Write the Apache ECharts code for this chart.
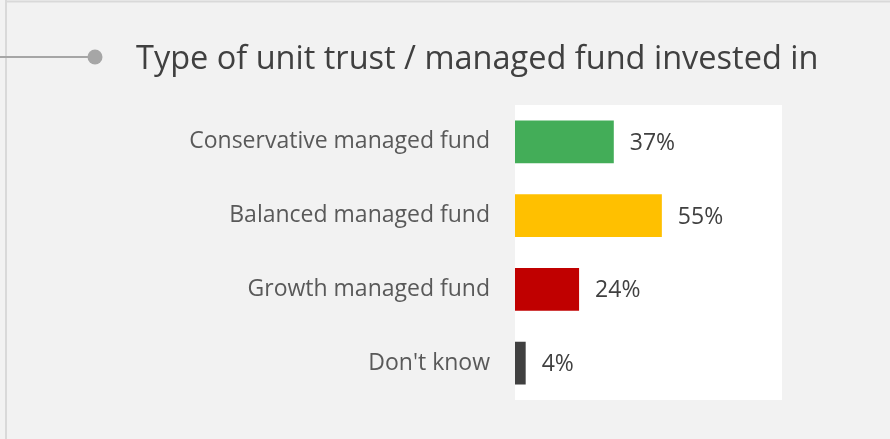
<!DOCTYPE html>
<html>
<head>
<meta charset="utf-8">
<script src="https://cdn.jsdelivr.net/npm/echarts@6/dist/echarts.min.js"></script>
<style>
html,body{margin:0;padding:0;background:#f2f2f2;}
#chart{width:890px;height:439px;}
</style>
</head>
<body>
<div id="chart"></div>
<script>
var titleText = "Type of unit trust / managed fund invested in";
var categories = ["Conservative managed fund", "Balanced managed fund", "Growth managed fund", "Don't know"];
var values = [37, 55, 24, 4];
var barColors = ["#43ad58", "#ffc000", "#c00000", "#404040"];

var chart = echarts.init(document.getElementById('chart'), null, {renderer: 'canvas'});
var font = "'Open Sans', 'Noto Sans', sans-serif";
chart.setOption({
  backgroundColor: '#f2f2f2',
  animation: false,
  title: {
    text: titleText,
    left: 131,
    top: 38,
    textStyle: {fontFamily: font, fontSize: 32.5, fontWeight: 'normal', color: '#404040'}
  },
  grid: {
    left: 515, top: 105, width: 267, height: 295,
    show: true, backgroundColor: '#ffffff', borderWidth: 0
  },
  xAxis: {type: 'value', min: 0, max: 100, show: false},
  yAxis: {
    type: 'category', data: categories, inverse: true,
    axisLine: {show: false}, axisTick: {show: false},
    axisLabel: {margin: 25, fontFamily: font, fontSize: 23, color: '#595959', padding: [3, 0, 0, 0]}
  },
  series: [{
    type: 'bar',
    barCategoryGap: '42%',
    data: values.map(function (v, i) { return {value: v, itemStyle: {color: barColors[i]}}; }),
    label: {
      show: true, position: 'right', distance: 16, offset: [0, 1.5],
      formatter: '{c}%', fontFamily: font, fontSize: 23, color: '#404040'
    }
  }],
  graphic: [
    {type: 'line', shape: {x1: 6, y1: 0, x2: 6, y2: 439}, style: {stroke: '#d9d9d9', lineWidth: 2}, silent: true},
    {type: 'line', shape: {x1: 5, y1: 1.5, x2: 890, y2: 1.5}, style: {stroke: '#d9d9d9', lineWidth: 2}, silent: true},
    {type: 'line', shape: {x1: 0, y1: 57, x2: 92, y2: 57}, style: {stroke: '#a6a6a6', lineWidth: 2}, silent: true},
    {type: 'circle', shape: {cx: 95, cy: 57, r: 7.5}, style: {fill: '#a6a6a6'}, silent: true}
  ]
});
</script>
</body>
</html>
